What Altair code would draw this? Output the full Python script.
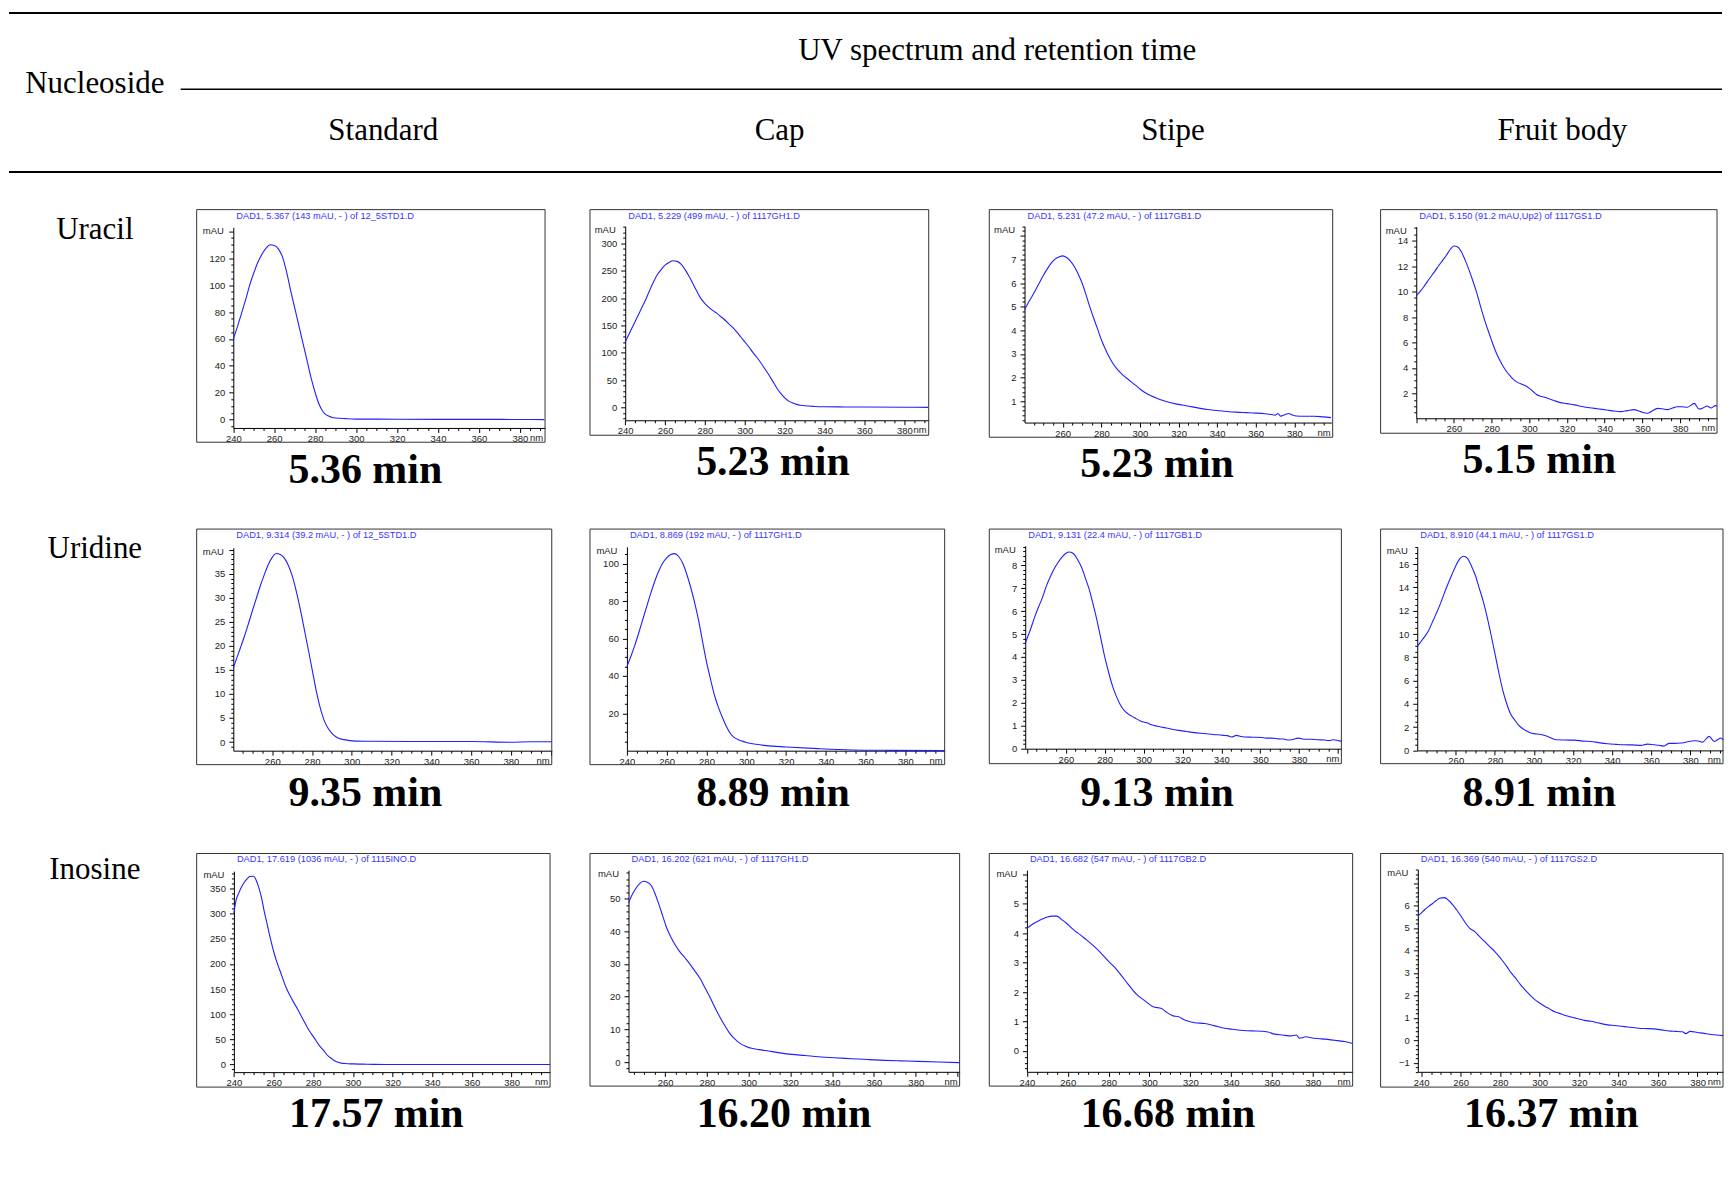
import math
import altair as alt
import pandas as pd

# ---------------- text content ----------------
CORNER = "Nucleoside"
HEADER_TITLE = "UV spectrum and retention time"
NUCLEOSIDES = ["Uracil", "Uridine", "Inosine"]
SOURCES = ["Standard", "Cap", "Stipe", "Fruit body"]
RET_TIMES = [[5.36, 5.23, 5.23, 5.15],
             [9.35, 8.89, 9.13, 8.91],
             [17.57, 16.20, 16.68, 16.37]]
DAD_TITLES = [
    ["DAD1, 5.367 (143 mAU, - ) of 12_5STD1.D", "DAD1, 5.229 (499 mAU, - ) of 1117GH1.D",
     "DAD1, 5.231 (47.2 mAU, - ) of 1117GB1.D", "DAD1, 5.150 (91.2 mAU,Up2) of 1117GS1.D"],
    ["DAD1, 9.314 (39.2 mAU, - ) of 12_5STD1.D", "DAD1, 8.869 (192 mAU, - ) of 1117GH1.D",
     "DAD1, 9.131 (22.4 mAU, - ) of 1117GB1.D", "DAD1, 8.910 (44.1 mAU, - ) of 1117GS1.D"],
    ["DAD1, 17.619 (1036 mAU, - ) of 1115INO.D", "DAD1, 16.202 (621 mAU, - ) of 1117GH1.D",
     "DAD1, 16.682 (547 mAU, - ) of 1117GB2.D", "DAD1, 16.369 (540 mAU, - ) of 1117GS2.D"],
]

# ---------------- spectra (wavelength nm, absorbance mAU) ----------------
URA_STD_NM = [240, 242, 244, 246, 248, 250, 252, 254, 256, 258, 260, 262, 264, 266, 268, 270, 272, 274, 276, 278,
              280, 282, 284, 286, 288, 290, 295, 300, 320, 340, 360, 380, 392]
URA_STD_MAU = [60, 69, 79, 89, 100, 109, 117, 123, 127.5, 130, 129.5, 127, 121, 110, 96, 83, 70, 57, 44, 31,
               20, 11, 5.5, 3, 1.8, 1.2, 0.7, 0.4, 0.3, 0.2, 0.2, 0.1, 0.0]

URA_CAP_NM = [240, 242, 244, 246, 248, 250, 252, 254, 256, 258, 260, 262, 264, 266, 268, 270, 272, 274, 276, 278,
              280, 282, 284, 286, 288, 290, 292, 294, 296, 298, 300, 302, 304, 306, 308, 310, 312, 314, 316, 318,
              320, 322, 324, 326, 328, 330, 335, 340, 350, 360, 380, 392]
URA_CAP_MAU = [120, 135, 150, 165, 180, 195, 212, 228, 242, 252, 260, 265, 268, 267, 262, 252, 240, 226, 212, 199,
               190, 183, 177, 172, 166, 160, 153, 146, 138, 129, 120, 111, 101, 92, 82, 71, 60, 48, 36, 26,
               18, 12, 8.5, 6, 4.5, 3.5, 2.2, 1.6, 1.3, 1.1, 0.8, 0.5]

URA_STI_NM = [240.2, 242, 244, 246, 248, 250, 252, 254, 256, 258, 260, 262, 264, 266, 268, 270, 272, 274, 276, 278,
              280, 282, 284, 286, 288, 290, 292, 294, 296, 298, 300, 303, 306, 309, 312, 315, 318, 322, 326, 330,
              335, 340, 345, 350, 355, 360, 365, 368, 370, 371.5, 373, 375, 377, 379, 381, 385, 390, 395, 399]
URA_STI_MAU = [4.87, 5.15, 5.42, 5.72, 6.02, 6.33, 6.6, 6.84, 7.01, 7.1, 7.15, 7.08, 6.93, 6.7, 6.38, 6.0, 5.52, 5.0,
               4.52, 4.07, 3.6, 3.22, 2.88, 2.6, 2.38, 2.2, 2.05, 1.92, 1.79, 1.66, 1.52, 1.35, 1.22, 1.12, 1.03,
               0.96, 0.9, 0.84, 0.78, 0.72, 0.65, 0.61, 0.57, 0.54, 0.52, 0.5, 0.47, 0.44, 0.41, 0.48, 0.37, 0.43,
               0.48, 0.42, 0.38, 0.37, 0.37, 0.34, 0.31]

URA_FRU_NM = [240, 242, 244, 246, 248, 250, 252, 254, 256, 258, 260, 262, 264, 266, 268, 270, 272, 274, 276, 278,
              280, 282, 284, 286, 288, 290, 292, 294, 296, 298, 300, 302, 304, 306, 308, 310, 313, 316, 320, 324,
              328, 332, 336, 341, 345, 348.5, 352, 355.5, 359, 362.6, 365, 368, 371, 373, 376, 378.4, 381, 383.7,
              387.6, 390, 392, 394.3, 396.4, 398.7, 399.6]
URA_FRU_MAU = [9.66, 10.0, 10.38, 10.8, 11.22, 11.62, 12.05, 12.45, 12.85, 13.3, 13.58, 13.5, 13.1, 12.45, 11.7,
               10.85, 9.95, 8.9, 7.9, 7.0, 6.15, 5.35, 4.7, 4.15, 3.7, 3.35, 3.05, 2.85, 2.72, 2.6, 2.4, 2.15, 1.9,
               1.78, 1.7, 1.6, 1.45, 1.3, 1.2, 1.1, 0.98, 0.88, 0.8, 0.7, 0.62, 0.57, 0.65, 0.73, 0.57, 0.44, 0.6,
               0.83, 0.78, 0.73, 0.85, 0.96, 0.95, 0.91, 1.22, 0.78, 0.85, 1.01, 0.86, 1.04, 0.99]

URI_STD_NM = [240.4, 242, 244, 246, 248, 250, 252, 254, 256, 258, 260, 262, 264, 266, 268, 270, 272, 274, 276, 278,
              280, 282, 284, 286, 288, 290, 292, 294, 296, 300, 310, 330, 360, 380, 390, 400.6]
URI_STD_MAU = [15.35, 17.3, 19.6, 22.0, 24.6, 27.3, 29.9, 32.5, 34.8, 36.9, 38.4, 39.2, 39.0, 38.3, 36.8, 34.6, 31.5,
               27.8, 23.7, 19.5, 15.2, 10.9, 7.3, 4.6, 2.9, 1.8, 1.1, 0.7, 0.5, 0.25, 0.15, 0.1, 0.1, -0.05, 0.05,
               0.05]

URI_CAP_NM = [240, 242, 244, 246, 248, 250, 252, 254, 256, 258, 260, 262, 264, 266, 268, 270, 272, 274, 276, 278,
              280, 282, 284, 286, 288, 290, 292, 294, 296, 298, 300, 305, 310, 320, 336, 353, 370, 399.7]
URI_CAP_MAU = [45.0, 50.5, 56.5, 63.2, 70.3, 77.3, 84.2, 90.6, 96.0, 100.3, 103.0, 104.8, 105.3, 103.8, 100.3, 94.6,
               87.5, 79.3, 69.8, 58.5, 47.5, 38.3, 29.7, 23.2, 17.8, 13.0, 9.3, 7.1, 6.0, 5.2, 4.5, 3.5, 2.8, 2.1,
               1.2, 0.5, 0.3, 0.15]

URI_STI_NM = [239.1, 242, 244, 246, 248, 250, 252, 254, 256, 258, 260, 262, 264, 266, 268, 270, 272, 274, 276, 278,
              280, 282, 284, 286, 288, 290, 292, 294, 296, 298, 300, 302, 304, 307, 310, 314, 318, 322, 326, 331,
              336, 341, 343, 345.2, 347.7, 350, 352, 356, 360.6, 363, 366, 369.2, 372, 374, 376, 379.5, 383, 386,
              389.8, 393, 395, 397.6, 401.7]
URI_STI_MAU = [4.59, 5.25, 5.75, 6.19, 6.6, 7.1, 7.5, 7.85, 8.12, 8.35, 8.52, 8.58, 8.5, 8.25, 7.92, 7.45, 6.95, 6.3,
               5.6, 4.8, 4.0, 3.33, 2.73, 2.28, 1.92, 1.67, 1.52, 1.41, 1.32, 1.22, 1.16, 1.12, 1.04, 0.98, 0.93,
               0.86, 0.8, 0.75, 0.7, 0.66, 0.62, 0.58, 0.57, 0.51, 0.58, 0.53, 0.51, 0.5, 0.49, 0.46, 0.46, 0.43,
               0.42, 0.38, 0.39, 0.46, 0.41, 0.41, 0.39, 0.38, 0.35, 0.39, 0.32]

URI_FRU_NM = [240.3, 242, 244, 246, 248, 250, 252, 254, 256, 258, 260, 262, 264, 266, 268, 270, 272, 274, 276, 278,
              280, 282, 284, 286, 288, 290, 292, 294, 296, 298, 300, 303, 306, 309, 311.3, 316, 320.7, 325, 329.2,
              333, 337.7, 342, 346.2, 350, 354.7, 358, 361.5, 364, 366.3, 369.2, 372, 375.1, 378, 381.9, 384, 386.2,
              389.6, 392.2, 395.6, 396.7]
URI_FRU_MAU = [8.93, 9.3, 9.75, 10.25, 11.0, 11.75, 12.55, 13.45, 14.3, 15.1, 15.85, 16.45, 16.68, 16.5, 15.85, 15.05,
               13.95, 12.85, 11.5, 9.98, 8.35, 6.7, 5.2, 4.05, 3.15, 2.65, 2.2, 1.9, 1.68, 1.52, 1.44, 1.38, 1.25,
               1.05, 0.91, 0.89, 0.88, 0.8, 0.77, 0.67, 0.57, 0.52, 0.48, 0.47, 0.43, 0.54, 0.48, 0.44, 0.37, 0.6,
               0.6, 0.63, 0.72, 0.83, 0.8, 0.71, 1.2, 0.77, 1.06, 0.9]

INO_STD_NM = [240, 241, 242.5, 244, 245, 246.5, 248, 250, 251, 252.6, 254, 255.1, 256.8, 258.5, 260, 261.8, 264, 266,
              268, 270.2, 272, 275.2, 278, 280.3, 283, 285.3, 287, 289.5, 291, 293.7, 296, 300.4, 305, 310.5, 320,
              399.4]
INO_STD_MAU = [301, 325, 341, 354, 360.6, 368, 373.5, 373.8, 368, 350.7, 330, 307.8, 278, 248.5, 225, 202, 178, 156,
               139, 123, 111, 87, 67, 54, 38, 27.7, 19, 11.2, 7, 3.3, 2, 1.3, 0.8, 0.3, 0, 0]

INO_CAP_NM = [242.5, 244, 245.6, 247.6, 249.6, 251.5, 253.6, 255.2, 256.8, 258.8, 260.8, 262.8, 264.8, 267, 269.5,
              272, 274.3, 277, 279.1, 281.5, 283.9, 286.3, 288.7, 290.7, 292.7, 294.6, 296.6, 299, 301.4, 305, 309.4,
              315, 320.6, 327, 333.3, 341, 349.3, 357, 365.2, 373, 381.2, 391, 401]
INO_CAP_MAU = [48.7, 50.9, 52.7, 54.4, 55.3, 55, 53.8, 51.5, 48.7, 44.8, 41.0, 38.2, 35.9, 33.8, 31.9, 29.9, 27.8,
               25.3, 22.7, 19.8, 16.6, 13.7, 11.0, 9.0, 7.43, 6.3, 5.4, 4.7, 4.2, 3.8, 3.36, 2.8, 2.34, 2.0, 1.63,
               1.3, 1.02, 0.75, 0.51, 0.35, 0.2, 0.0, -0.2]

INO_STI_NM = [240, 242, 244.1, 246, 248.1, 250, 252.2, 254.6, 257, 259.5, 261.5, 263.6, 266, 268.5, 271.8, 275.8,
              279.9, 283.1, 286.4, 289.6, 293.7, 297.8, 301.8, 305.9, 308, 311.6, 314, 317.3, 322.2, 327, 332, 336.9,
              340, 343.4, 349.9, 355, 358, 361.3, 365, 369.4, 371.9, 373.5, 376.7, 379, 382.4, 386, 390.6, 393, 395.5,
              399.5]
INO_STI_MAU = [4.16, 4.27, 4.36, 4.43, 4.50, 4.55, 4.58, 4.58, 4.46, 4.33, 4.2, 4.07, 3.95, 3.81, 3.62, 3.36, 3.05,
               2.83, 2.55, 2.26, 1.92, 1.70, 1.50, 1.44, 1.33, 1.19, 1.17, 1.05, 0.96, 0.93, 0.85, 0.77, 0.74, 0.71,
               0.68, 0.67, 0.64, 0.57, 0.54, 0.51, 0.54, 0.43, 0.48, 0.45, 0.42, 0.4, 0.36, 0.34, 0.32, 0.25]

INO_FRU_NM = [238.3, 240, 241.7, 243.8, 245.9, 247.6, 249.3, 251.8, 254, 256, 258, 260.3, 262.4, 264.5, 267, 269.5,
              272.1, 274.6, 277.2, 279.3, 281.4, 283.5, 285.6, 287.3, 289, 291, 293.2, 295.3, 297.4, 300, 302.5, 305,
              307.6, 310, 312.6, 315, 317.7, 320, 322.7, 326, 329.5, 334.5, 338, 343, 347, 351.4, 355, 359.8, 363,
              366.5, 369, 372.4, 374, 376.3, 380, 383.3, 386, 390, 392.9]
INO_FRU_MAU = [5.54, 5.66, 5.81, 5.96, 6.10, 6.22, 6.32, 6.35, 6.22, 6.03, 5.8, 5.51, 5.22, 4.99, 4.85, 4.62, 4.40,
               4.18, 3.96, 3.75, 3.52, 3.27, 3.00, 2.82, 2.63, 2.4, 2.19, 2.0, 1.82, 1.66, 1.52, 1.4, 1.27, 1.2, 1.12,
               1.06, 1.00, 0.95, 0.89, 0.85, 0.78, 0.69, 0.66, 0.61, 0.57, 0.53, 0.52, 0.49, 0.45, 0.41, 0.4, 0.38,
               0.30, 0.40, 0.35, 0.31, 0.27, 0.24, 0.21]

SPECTRA = [
    [(URA_STD_NM, URA_STD_MAU), (URA_CAP_NM, URA_CAP_MAU), (URA_STI_NM, URA_STI_MAU), (URA_FRU_NM, URA_FRU_MAU)],
    [(URI_STD_NM, URI_STD_MAU), (URI_CAP_NM, URI_CAP_MAU), (URI_STI_NM, URI_STI_MAU), (URI_FRU_NM, URI_FRU_MAU)],
    [(INO_STD_NM, INO_STD_MAU), (INO_CAP_NM, INO_CAP_MAU), (INO_STI_NM, INO_STI_MAU), (INO_FRU_NM, INO_FRU_MAU)],
]

# axis ranges of each instrument plot
X_DOMAINS = [[(240, 392.3), (240, 392.2), (240.2, 399.2), (240, 399.6)],
             [(240.4, 400.6), (240, 399.7), (239.1, 401.7), (240.3, 396.7)],
             [(240, 399.4), (242.5, 401), (240, 399.5), (238.3, 392.9)]]
Y_DOMAINS = [[(-6.2, 143), (-23, 331), (0.1, 8.4), (0.05, 15.1)],
             [(-1.8, 40.4), (0.1, 109), (0, 8.85), (0, 17.5)],
             [(-15, 384), (-3, 58.7), (-0.71, 6.14), (-1.4, 7.6)]]
Y_STEPS = [[(20, 5), (50, 10), (1, 0.2), (2, 0.5)],
           [(5, 1), (20, 5), (1, 0.2), (2, 0.5)],
           [(50, 10), (10, 2), (1, 0.2), (1, 0.2)]]
Y_LAST_LABEL = [[120, 300, 7, 14], [35, 100, 8, 16], [350, 50, 5, 6]]
X_FIRST_LABEL = [[240, 240, 260, 260], [260, 240, 260, 260], [240, 260, 240, 240]]

# ---------------- layout (pixels) ----------------
SERIF = "Liberation Serif"
SANS = "Liberation Sans"
LINE_BLUE = "#1f1fff"
TEXT_BLUE = "#3535ff"
LABEL_COL_W = 188
CELL_W = [393.7, 399.3, 392, 343]
ROW_H = [320, 325, 240]
ROW_LABEL_Y = [20, 20, 17]
# frame W, frame H, plot left, plot right, plot top, plot bottom, time-label x, time-label y
GEOM = [
    [(349, 233, 36.7, 349, 17.7, 218.7, 169, 261), (339.3, 226, 35.3, 339.3, 16.7, 211, 183.3, 253),
     (344, 228, 35.3, 342.7, 16.7, 213.3, 168, 255), (337, 224, 35.7, 337, 17, 209, 159, 251)],
    [(355.7, 236, 36.7, 355.7, 18.7, 222, 169, 264), (355.3, 236, 37, 355.3, 17.7, 222, 183.3, 264),
     (352.7, 235, 36, 352.7, 16.7, 220, 168, 264), (343, 235, 36.7, 343, 17.7, 221.7, 159, 264)],
    [(354, 234, 37.3, 354, 17.7, 219, 180, 261), (370.3, 233, 38.6, 370.3, 16.7, 218.7, 194.3, 261),
     (364, 233, 37.7, 364, 16.7, 218.7, 179, 261), (343, 234, 37.3, 343, 16, 218.7, 171, 261)],
]
TOTAL_W = 1716
COL_HEADER_X = [375, 772, 1166, 1556]


def text_layer(s, x, y, **kw):
    return alt.Chart(pd.DataFrame({"t": [s]})).mark_text(**kw).encode(
        text="t:N", x=alt.value(x), y=alt.value(y))


def hrule(x0, x1, y, w):
    return alt.Chart(pd.DataFrame({"k": [0]})).mark_rule(color="black", strokeWidth=w).encode(
        x=alt.value(x0), x2=alt.value(x1), y=alt.value(y))


def spectrum_cell(r, c):
    nm, mau = SPECTRA[r][c]
    xdom = X_DOMAINS[r][c]
    ydom = Y_DOMAINS[r][c]
    ymaj, ymin = Y_STEPS[r][c]
    ylast = Y_LAST_LABEL[r][c]
    xfirst = X_FIRST_LABEL[r][c]
    Wf, Hf, L, R, T, B, tx, ty = GEOM[r][c]
    df = pd.DataFrame({"nm": nm, "mAU": mau})

    xt = [v for v in range(240, 405, 5) if xdom[0] <= v <= xdom[1]]
    k0 = math.ceil(ydom[0] / ymin - 1e-9)
    k1 = math.floor(ydom[1] / ymin + 1e-9)
    yt = [round(k * ymin, 6) for k in range(k0, k1 + 1)]
    ytest = f"abs(datum.value / {ymaj} - round(datum.value / {ymaj})) < 0.001"
    xtest = "datum.value % 20 == 0"

    common = dict(title=None, grid=False, labelFont=SANS, labelFontSize=9.5, labelColor="#222",
                  domainColor="#000", tickColor="#000", domainWidth=1, tickWidth=1,
                  labelOverlap=False, labelFlush=False)
    xaxis = alt.Axis(values=xt, offset=B - Hf, labelPadding=1,
                     labelExpr=f"({xtest} && datum.value >= {xfirst} && datum.value <= 380) ? datum.label : ''",
                     tickSize={"condition": {"test": xtest, "value": 4.5}, "value": 2.5}, **common)
    yaxis = alt.Axis(values=yt, offset=-L, labelPadding=4,
                     labelExpr=f"(({ytest}) && datum.value <= {ylast} + 0.001) ? format(datum.value, 'd') : ''",
                     tickSize={"condition": {"test": ytest, "value": 4.5}, "value": 2.5}, **common)

    frame = alt.Chart(pd.DataFrame({"k": [0]})).mark_rect(
        filled=False, stroke="#333", strokeWidth=1).encode(
        x=alt.value(0), x2=alt.value(Wf), y=alt.value(0), y2=alt.value(Hf))
    line = alt.Chart(df).mark_line(color=LINE_BLUE, strokeWidth=1.1, interpolate="monotone").encode(
        x=alt.X("nm:Q", scale=alt.Scale(domain=list(xdom), range=[L, R], nice=False, zero=False), axis=xaxis),
        y=alt.Y("mAU:Q", scale=alt.Scale(domain=list(ydom), range=[B, T], nice=False, zero=False), axis=yaxis),
    )
    dad = text_layer(DAD_TITLES[r][c], L + 3, 6, align="left", baseline="middle",
                     font=SANS, fontSize=9.3, color=TEXT_BLUE)
    mau_lab = text_layer("mAU", L - 9.5, T + 4, align="right", baseline="middle",
                         font=SANS, fontSize=9.5, color="#222")
    nm_lab = text_layer("nm", Wf - 2, B + 10, align="right", baseline="middle",
                        font=SANS, fontSize=9.5, color="#222")
    time_lab = text_layer(f"{RET_TIMES[r][c]:.2f} min", tx, ty, align="center", baseline="middle",
                          font=SERIF, fontSize=42, fontWeight="bold", color="black")
    return alt.layer(frame, line, dad, mau_lab, nm_lab, time_lab).properties(width=CELL_W[c], height=Hf)


def label_cell(r):
    layers = [text_layer(NUCLEOSIDES[r], 86, ROW_LABEL_Y[r], align="center", baseline="middle",
                         font=SERIF, fontSize=31, color="black")]
    if r == 0:
        layers += [
            hrule(0, TOTAL_W, -197, 2),
            hrule(172, TOTAL_W, -120.5, 1.5),
            hrule(0, TOTAL_W, -37.6, 2),
            text_layer(CORNER, 86, -126, align="center", baseline="middle", font=SERIF, fontSize=31,
                       color="black"),
            text_layer(HEADER_TITLE, 990, -159, align="center", baseline="middle", font=SERIF, fontSize=31,
                       color="black"),
        ]
        for name, x in zip(SOURCES, COL_HEADER_X):
            layers.append(text_layer(name, x, -79, align="center", baseline="middle", font=SERIF,
                                     fontSize=31, color="black"))
    return alt.layer(*layers).properties(width=LABEL_COL_W, height=ROW_H[r])


cells = []
for r in range(3):
    cells.append(label_cell(r))
    for c in range(4):
        cells.append(spectrum_cell(r, c))

chart = alt.concat(*cells, columns=5, spacing=0, bounds="flush", align="each").properties(
    padding={"left": 0, "top": 3, "right": 0, "bottom": 0}
).configure_view(strokeWidth=0)

chart.save("out.html", embed_options={"renderer": "svg", "actions": False})
